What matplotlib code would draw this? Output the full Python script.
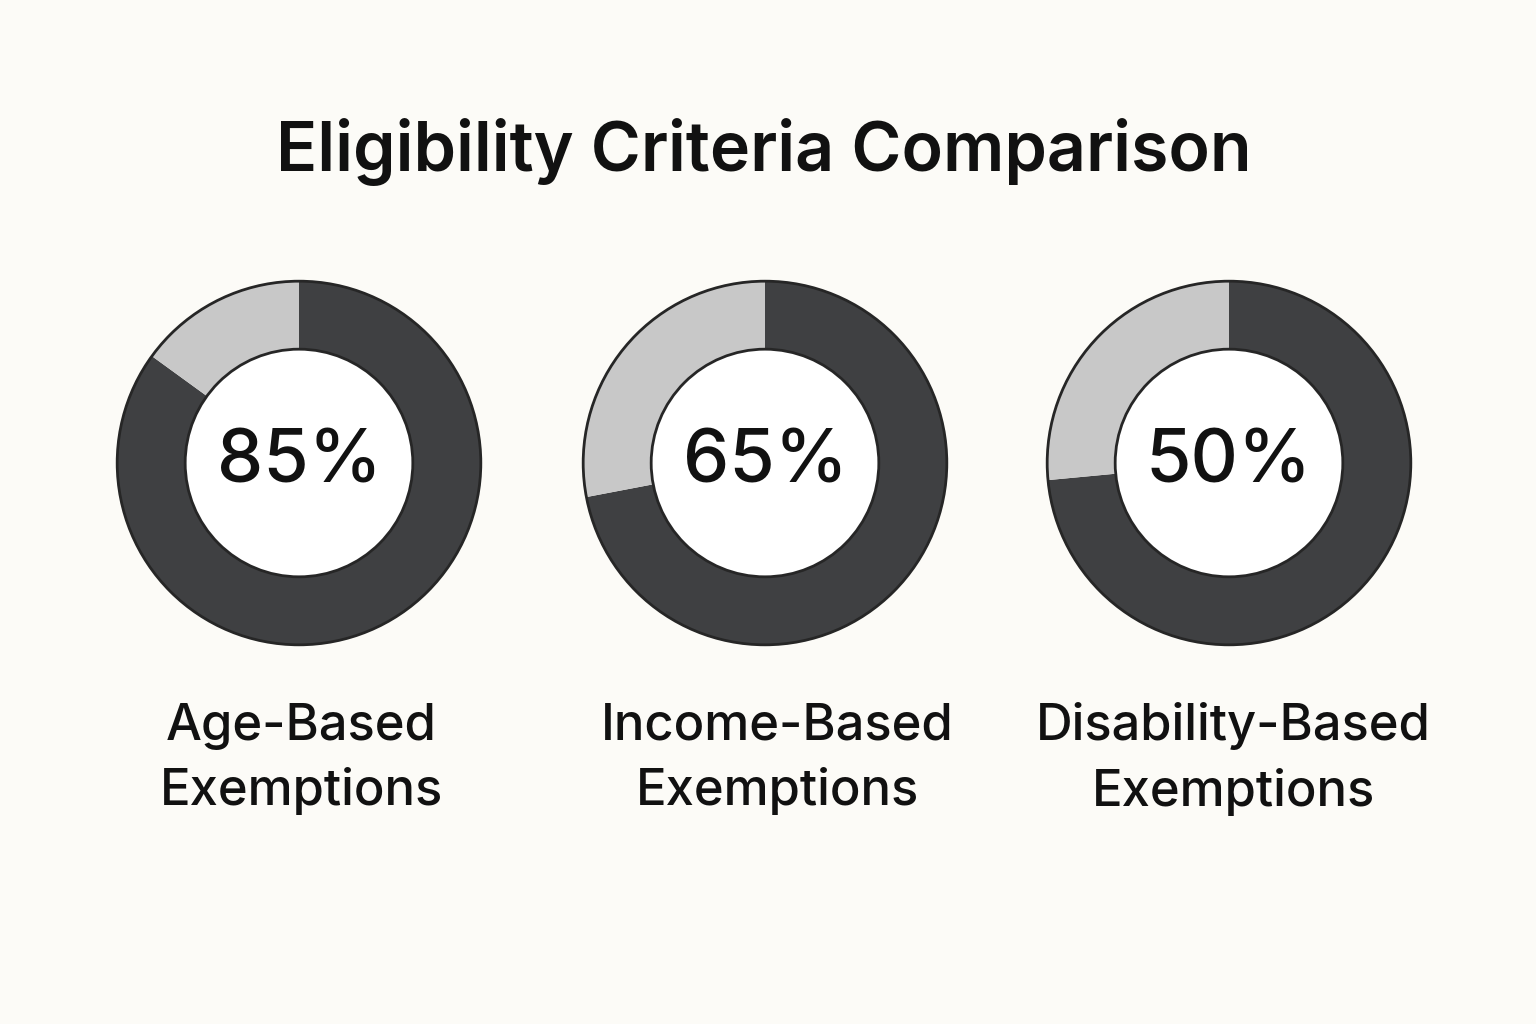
import matplotlib.pyplot as plt
from matplotlib.patches import Circle

# data
categories = ['Age-Based\nExemptions', 'Income-Based\nExemptions', 'Disability-Based\nExemptions']
pct_labels = [85, 65, 50]
# dark share of each ring as drawn (the rings do not follow the labels exactly)
ring_dark = [85, 72, 73.5]

title = 'Eligibility Criteria Comparison'

bg = '#fcfbf7'
dark = '#3f4042'
light = '#c8c8c8'
edge = '#262626'
font = ['Inter', 'DejaVu Sans']

W, H = 1536, 1024
fig = plt.figure(figsize=(W / 100, H / 100), dpi=100, facecolor=bg)

centers_x = [299, 765, 1229]
center_y = 463
box = 400  # axes size in px, limits -1.1..1.1 -> radius 1 = ~182 px

fig.text(764 / W, 1 - 152 / H, title, ha='center', va='center',
         fontsize=49, fontweight=600, family=font, color='#111111')

for cx, pct, share in zip(centers_x, pct_labels, ring_dark):
    ax = fig.add_axes([(cx - box / 2) / W, 1 - (center_y + box / 2) / H, box / W, box / H])
    ax.pie([share, 100 - share], colors=[dark, light], startangle=90,
           counterclock=False, radius=1.0,
           wedgeprops=dict(width=0.374, linewidth=0))
    ax.add_patch(Circle((0, 0), 0.626, facecolor='white', edgecolor=edge, lw=2, zorder=3))
    ax.add_patch(Circle((0, 0), 1.0, facecolor='none', edgecolor=edge, lw=2, zorder=3))
    ax.text(0, 0, f'{pct}%', ha='center', va='center', fontsize=53,
            fontweight=500, family=font, color='#111111', zorder=4)
    ax.set_xlim(-1.1, 1.1)
    ax.set_ylim(-1.1, 1.1)
    ax.set_aspect('equal')
    ax.axis('off')

label_x = [301, 777, 1233]
for lx, cat in zip(label_x, categories):
    fig.text(lx / W, 1 - 759 / H, cat, ha='center', va='center', fontsize=36.5,
             fontweight=500, family=font, color='#111111', linespacing=1.45)

fig.savefig('out.png', dpi=100, facecolor=bg)
